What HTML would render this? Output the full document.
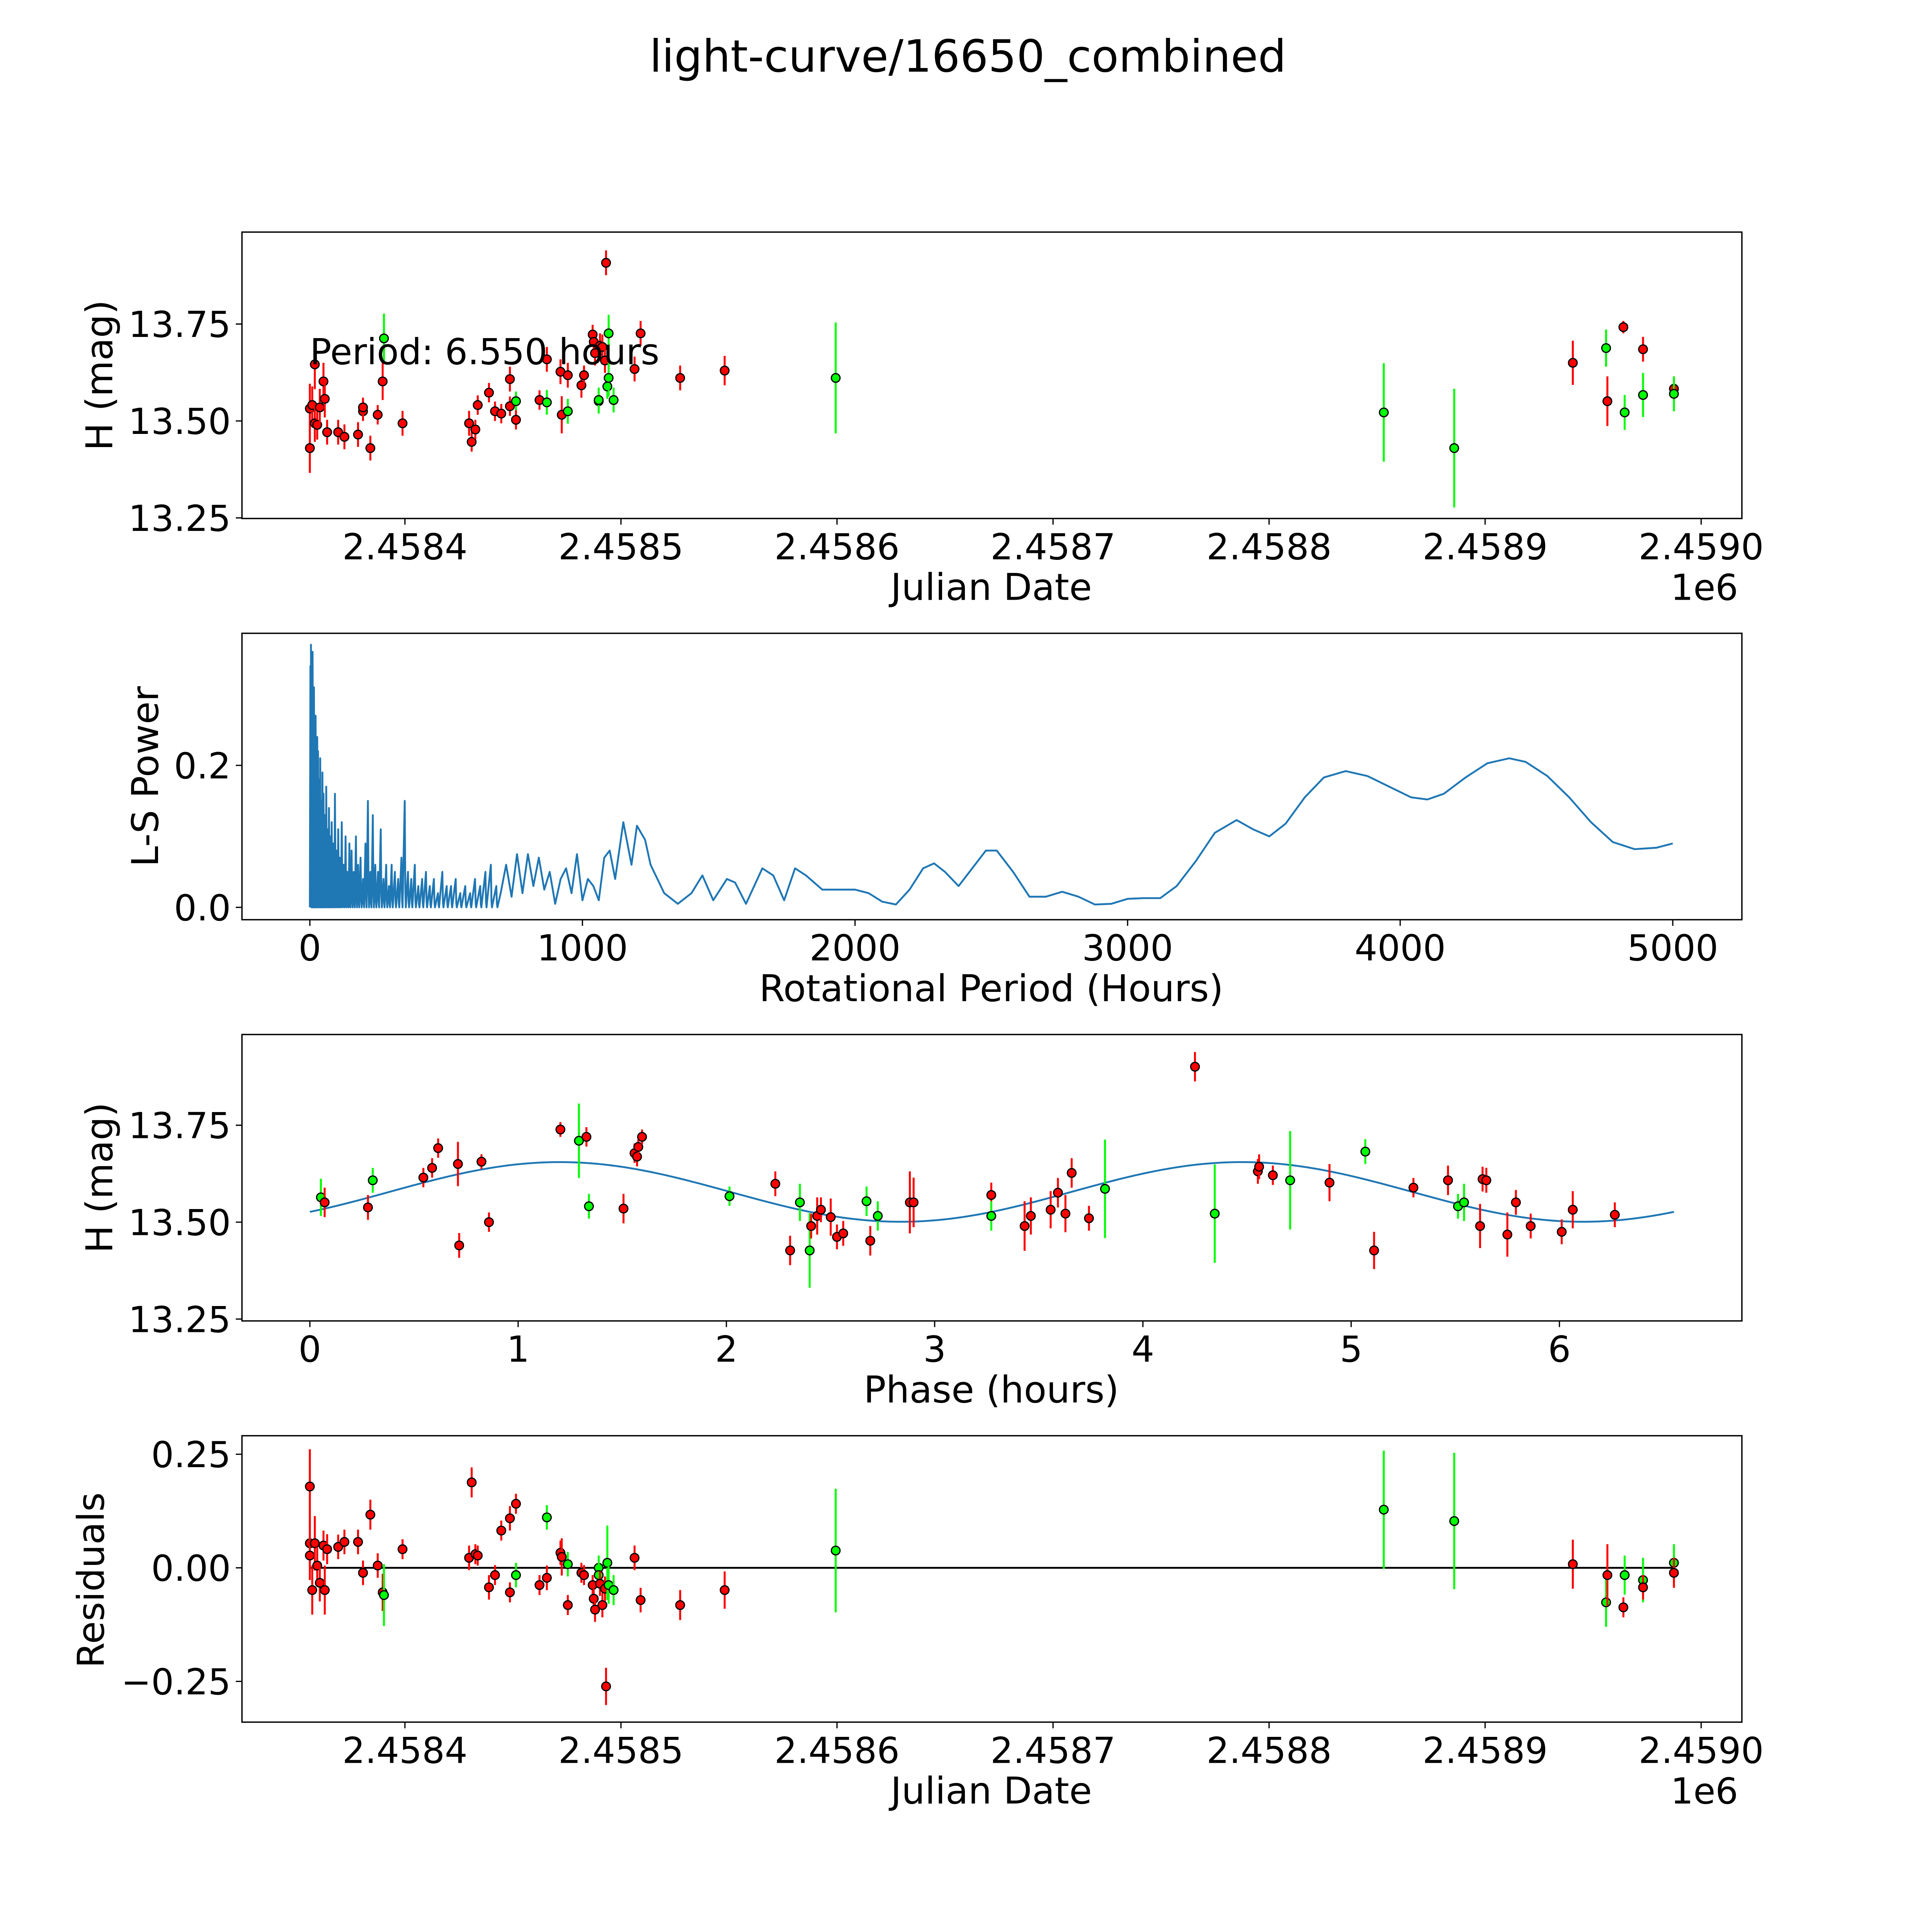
<!DOCTYPE html>
<html><head><meta charset="utf-8">
<style>
html,body{margin:0;padding:0;background:#fff;overflow:hidden;width:100%;height:100%;}
svg{display:block;width:100vw;height:100vh;font-family:"DejaVu Sans","Liberation Sans",sans-serif;}
</style></head>
<body>
<svg id="fig" viewBox="0 0 1565 1565" preserveAspectRatio="none" xmlns="http://www.w3.org/2000/svg">
<rect x="0" y="0" width="1565" height="1565" fill="#fff"/>
<text x="784" y="58" font-size="36" text-anchor="middle">light-curve/16650_combined</text>
<g id="p1"></g>
<g id="p2"></g>
<g id="p3"></g>
<g id="p4"></g>
</svg>
<script>
const lcDays = [-44,-44,-42.9,-41.7,-41.7,-40.6,-39.4,-37.7,-37.1,-36,-30.9,-28,-21.7,-19.4,-19.4,-16,-12.6,-10.3,-9.7,-1.1,29.7,30.9,32.6,33.7,38.9,41.7,44.6,48.6,48.6,51.4,51.4,62.3,65.7,65.7,72,72.6,75.4,75.4,81.7,82.9,86.9,87.4,88,89.7,89.7,90.3,91.4,92.6,93.1,93.7,94.3,94.3,96.6,106.3,109.1,127.4,148,199.4,453.1,485.7,540.6,556,556.6,564,564.6,573.1,573.1,587.4,587.4];
const lcMag = [13.43,13.532,13.541,13.646,13.494,13.49,13.535,13.602,13.557,13.471,13.471,13.459,13.465,13.525,13.535,13.43,13.516,13.602,13.713,13.494,13.494,13.446,13.478,13.541,13.573,13.525,13.519,13.608,13.538,13.551,13.503,13.554,13.548,13.659,13.627,13.516,13.525,13.618,13.592,13.618,13.723,13.704,13.675,13.551,13.554,13.694,13.691,13.656,13.908,13.589,13.611,13.726,13.554,13.634,13.726,13.611,13.63,13.611,13.522,13.43,13.65,13.688,13.551,13.742,13.522,13.685,13.567,13.583,13.57];
const lcErr = [0.064,0.064,0.048,0.064,0.048,0.038,0.048,0.048,0.048,0.032,0.032,0.032,0.032,0.025,0.025,0.032,0.025,0.048,0.064,0.032,0.032,0.025,0.025,0.025,0.025,0.025,0.025,0.032,0.025,0.025,0.025,0.025,0.032,0.032,0.032,0.048,0.032,0.032,0.032,0.025,0.025,0.025,0.032,0.032,0.032,0.032,0.032,0.032,0.032,0.032,0.048,0.048,0.032,0.032,0.032,0.032,0.038,0.143,0.127,0.153,0.057,0.048,0.064,0.016,0.045,0.032,0.057,0.032,0.045];
const lcCol = ["r","r","r","r","r","r","r","r","r","r","r","r","r","r","r","r","r","r","g","r","r","r","r","r","r","r","r","r","r","g","r","r","g","r","r","r","g","r","r","r","r","r","r","g","g","r","r","r","r","g","g","g","g","r","r","r","r","g","g","g","r","g","r","r","g","r","g","r","g"];

const spikePeriods = [2,4,6,8,10,12,15,18,21,24,27,30,34,38,42,46,50,55,60,65,70,75,80,86,92,98,104,110,117,124,131,138,145,153,161,169,177,186,195,204,213,222,231,240,250,260,270,280,290,300,312,324,336,348,360,372,385,398,412,426,440,455,470,486,502,518,535,552,570,588,606,625,644,664,684];
const spikePowers = [0.34,0.37,0.33,0.3,0.36,0.28,0.31,0.25,0.27,0.2,0.24,0.22,0.18,0.21,0.15,0.19,0.16,0.13,0.17,0.11,0.14,0.1,0.12,0.09,0.16,0.08,0.11,0.07,0.12,0.06,0.1,0.05,0.09,0.08,0.05,0.1,0.06,0.07,0.04,0.09,0.15,0.05,0.13,0.06,0.05,0.11,0.04,0.06,0.03,0.06,0.05,0.04,0.07,0.15,0.05,0.04,0.06,0.03,0.04,0.05,0.03,0.04,0.02,0.05,0.03,0.03,0.04,0.02,0.03,0.02,0.04,0.03,0.05,0.06,0.03];
const smoothPeriods = [700,720,740,760,780,800,820,840,860,880,900,920,940,960,980,1000,1020,1040,1060,1080,1100,1120,1150,1180,1200,1230,1250,1300,1350,1400,1440,1480,1530,1560,1600,1660,1700,1740,1780,1820,1880,1950,2000,2050,2100,2150,2200,2250,2290,2330,2380,2420,2480,2520,2580,2640,2700,2760,2820,2880,2940,3000,3060,3120,3180,3250,3320,3400,3460,3520,3580,3650,3720,3800,3880,3960,4040,4100,4160,4240,4320,4400,4460,4540,4620,4700,4780,4860,4940,5000];
const smoothPowers = [0.02,0.06,0.015,0.075,0.02,0.075,0.03,0.07,0.025,0.05,0.005,0.04,0.055,0.02,0.075,0.01,0.04,0.03,0.01,0.07,0.08,0.04,0.12,0.06,0.115,0.095,0.06,0.02,0.005,0.02,0.045,0.01,0.04,0.035,0.005,0.055,0.045,0.01,0.055,0.045,0.025,0.025,0.025,0.02,0.008,0.004,0.025,0.055,0.062,0.05,0.03,0.05,0.08,0.08,0.05,0.015,0.015,0.022,0.015,0.004,0.005,0.012,0.013,0.013,0.03,0.065,0.105,0.123,0.11,0.1,0.118,0.155,0.183,0.192,0.185,0.17,0.155,0.152,0.16,0.183,0.203,0.21,0.205,0.185,0.155,0.12,0.092,0.082,0.084,0.09];

const phHours = [0.053,0.071,0.279,0.302,0.545,0.587,0.616,0.711,0.717,0.824,0.86,1.203,1.292,1.328,1.34,1.506,1.559,1.571,1.577,1.595,2.015,2.235,2.306,2.353,2.4,2.407,2.436,2.454,2.501,2.531,2.561,2.673,2.691,2.727,2.881,2.899,3.272,3.272,3.432,3.462,3.557,3.592,3.628,3.658,3.741,3.818,4.25,4.345,4.552,4.558,4.624,4.707,4.896,5.068,5.11,5.299,5.465,5.513,5.542,5.619,5.631,5.649,5.75,5.791,5.862,6.011,6.064,6.266];
const phMag = [13.564,13.551,13.538,13.608,13.615,13.64,13.691,13.65,13.44,13.656,13.5,13.739,13.71,13.72,13.541,13.535,13.678,13.669,13.694,13.72,13.567,13.599,13.427,13.551,13.427,13.49,13.516,13.532,13.513,13.462,13.471,13.554,13.452,13.516,13.551,13.551,13.57,13.516,13.49,13.516,13.532,13.576,13.522,13.627,13.51,13.586,13.901,13.522,13.631,13.643,13.621,13.608,13.602,13.682,13.427,13.589,13.608,13.541,13.551,13.49,13.611,13.608,13.468,13.551,13.49,13.475,13.532,13.519];
const phErr = [0.048,0.038,0.032,0.032,0.025,0.025,0.025,0.057,0.032,0.019,0.025,0.019,0.096,0.025,0.032,0.038,0.025,0.025,0.019,0.019,0.025,0.032,0.038,0.048,0.096,0.032,0.048,0.032,0.048,0.032,0.032,0.038,0.038,0.038,0.08,0.064,0.032,0.038,0.064,0.048,0.048,0.038,0.048,0.038,0.032,0.127,0.038,0.127,0.032,0.032,0.025,0.127,0.048,0.032,0.048,0.025,0.038,0.032,0.048,0.057,0.032,0.032,0.057,0.032,0.032,0.032,0.048,0.032];
const phCol = ["g","r","r","g","r","r","r","r","r","r","r","r","g","r","g","r","r","r","r","r","g","r","r","g","g","r","r","r","r","r","r","g","r","g","r","r","r","g","r","r","r","r","r","r","r","g","r","g","r","r","r","g","r","g","r","r","r","g","g","r","r","r","r","r","r","r","r","r"];
const fitMean = 13.578, fitAmp = 0.077, fitPeak = 1.2, fitPeriod = 3.275, phaseMax = 6.55;

const resDays = [-44,-44,-44,-42.9,-41.7,-40.6,-39.4,-37.7,-37.1,-36,-30.9,-28,-21.7,-19.4,-16,-12.6,-10.3,-9.7,-1.1,29.7,30.9,32.6,33.7,38.9,41.7,44.6,48.6,48.6,51.4,51.4,62.3,65.7,65.7,72,72.6,75.4,75.4,81.7,82.9,86.9,87.4,88,89.7,89.7,90.3,91.4,92.6,93.1,93.7,94.3,96.6,106.3,109.1,127.4,148,199.4,453.1,485.7,540.6,556,556.6,564,564.6,573.1,573.1,587.4,587.4];
const resVal = [0.179,0.054,0.027,-0.049,0.054,0.005,-0.033,0.049,-0.049,0.041,0.046,0.057,0.057,-0.011,0.117,0.005,-0.054,-0.06,0.041,0.022,0.188,0.03,0.027,-0.043,-0.016,0.082,0.109,-0.054,0.141,-0.016,-0.038,0.111,-0.022,0.033,0.024,0.008,-0.082,-0.011,-0.016,-0.038,-0.068,-0.092,0,-0.016,-0.035,-0.082,-0.046,-0.261,0.011,-0.038,-0.049,0.022,-0.071,-0.082,-0.049,0.038,0.128,0.103,0.008,-0.076,-0.016,-0.087,-0.016,-0.027,-0.043,0.011,-0.011];
const resErr = [0.082,0.049,0.054,0.054,0.06,0.041,0.041,0.033,0.054,0.033,0.027,0.027,0.027,0.027,0.033,0.027,0.041,0.068,0.022,0.027,0.033,0.022,0.022,0.027,0.022,0.022,0.027,0.022,0.022,0.027,0.022,0.027,0.027,0.027,0.041,0.027,0.022,0.022,0.022,0.022,0.022,0.027,0.027,0.027,0.027,0.027,0.027,0.041,0.082,0.041,0.033,0.027,0.027,0.033,0.041,0.136,0.13,0.15,0.054,0.054,0.068,0.022,0.043,0.049,0.027,0.041,0.033];
const resCol = ["r","r","r","r","r","r","r","r","r","r","r","r","r","r","r","r","r","g","r","r","r","r","r","r","r","r","r","r","r","g","r","g","r","r","r","g","r","r","r","r","r","r","g","g","r","r","r","r","g","g","g","r","r","r","r","g","g","g","r","g","r","r","g","g","r","g","r"];

const jdTicks = [2458400,2458500,2458600,2458700,2458800,2458900,2459000];
const jdTickLabels = ["2.4584","2.4585","2.4586","2.4587","2.4588","2.4589","2.4590"];
const magTicks = [13.25,13.5,13.75];
const magTickLabels = ["13.25","13.50","13.75"];
const pTicks = [0,1000,2000,3000,4000,5000];
const powTicks = [0,0.2];
const powTickLabels = ["0.0","0.2"];
const phTicks = [0,1,2,3,4,5,6];
const resTicks = [-0.25,0,0.25];
const resTickLabels = ["\u22120.25","0.00","0.25"];

const NS = "http://www.w3.org/2000/svg";
const TF = 29, LF = 30;
function mk(parent, tag, attrs){const e=document.createElementNS(NS,tag);for(const k in attrs)e.setAttribute(k,attrs[k]);parent.appendChild(e);return e;}
const jdX = d => 328 + (d-2458400)*1.75;
const dayX = d => 328 + d*1.75;
function frame(g,L,T,R,B){
  const f=mk(g,'rect',{x:L,y:T,width:R-L,height:B-T,fill:'none',stroke:'#000','stroke-width':1.1});
  
  
}
function xtick(g,x,B,label){
  mk(g,'line',{x1:x,y1:B,x2:x,y2:B+5,stroke:'#000','stroke-width':1});
  const t=mk(g,'text',{x:x,y:B+33,'font-size':TF,'text-anchor':'middle'});t.textContent=label;
  
  
}
function ytick(g,y,L,label){
  mk(g,'line',{x1:L-5,y1:y,x2:L,y2:y,stroke:'#000','stroke-width':1});
  const t=mk(g,'text',{x:L-9,y:y+10.5,'font-size':TF,'text-anchor':'end'});t.textContent=label;
  
  
}
function label(g,x,y,txt,rot,name){
  const t=mk(g,'text',{x:x,y:y,'font-size':LF,'text-anchor':'middle'});
  if(rot)t.setAttribute('transform',`rotate(-90 ${x} ${y})`);
  t.textContent=txt;
  
  
}
function point(g,x,y,ytop,ybot,c){
  const col=c==='g'?'#00ff00':'#ff0000';
  const l=mk(g,'line',{x1:x,y1:ytop,x2:x,y2:ybot,stroke:col,'stroke-width':1.6});
  
  
  const p=mk(g,'circle',{cx:x,cy:y,r:3.5,fill:col,stroke:'#000','stroke-width':1});
  
  
}
function offsetLabel(g,y){
  const t=mk(g,'text',{x:1408,y:y,'font-size':TF,'text-anchor':'end'});t.textContent='1e6';
  
  
}

(function(){
  const g=document.getElementById('p1');
  const L=196,T=188,R=1411,B=420;
  const yM=m=>341-(m-13.5)*314;
  lcDays.forEach((d,i)=>point(g,dayX(d),yM(lcMag[i]),yM(lcMag[i]+lcErr[i]),yM(lcMag[i]-lcErr[i]),lcCol[i]));
  frame(g,L,T,R,B);
  jdTicks.forEach((v,i)=>xtick(g,jdX(v),B,jdTickLabels[i]));
  magTicks.forEach((v,i)=>ytick(g,yM(v),L,magTickLabels[i]));
  offsetLabel(g,486);
  label(g,803,486,'Julian Date',false,'x-axis-title');
  label(g,91,304,'H (mag)',true,'y-axis-title');
  const pt=mk(g,'text',{x:251,y:295,'font-size':29});pt.textContent='Period: 6.550 hours';
  
  
})();

(function(){
  const g=document.getElementById('p2');
  const L=196,T=513,R=1411,B=745;
  const xP=p=>251+p*0.2208, yP=v=>735-v*575;
  let d='M'+xP(0)+' '+yP(0);
  spikePeriods.forEach((p,i)=>{
    d+=` L${xP(p).toFixed(2)} ${yP(spikePowers[i]).toFixed(2)} L${(xP(p)+0.5).toFixed(2)} ${yP(spikePowers[i]*0.15).toFixed(2)} L${(xP(p)+0.9).toFixed(2)} ${yP(0)}`;
  });
  smoothPeriods.forEach((p,i)=>{d+=` L${xP(p).toFixed(2)} ${yP(smoothPowers[i]).toFixed(2)}`;});
  const path=mk(g,'path',{d:d,fill:'none',stroke:'#1f77b4','stroke-width':1.5,'stroke-linejoin':'round'});
  
  
  frame(g,L,T,R,B);
  pTicks.forEach(v=>xtick(g,xP(v),B,String(v)));
  powTicks.forEach((v,i)=>ytick(g,yP(v),L,powTickLabels[i]));
  label(g,803,811,'Rotational Period (Hours)',false,'x-axis-title');
  label(g,128,629,'L-S Power',true,'y-axis-title');
})();

(function(){
  const g=document.getElementById('p3');
  const L=196,T=838,R=1411,B=1070;
  const xH=h=>251+h*168.7, yM=m=>990-(m-13.5)*314;
  let d='';
  for(let i=0;i<=200;i++){const h=phaseMax*i/200;const m=fitMean+fitAmp*Math.cos(2*Math.PI*(h-fitPeak)/fitPeriod);d+=(i?' L':'M')+xH(h).toFixed(2)+' '+yM(m).toFixed(2);}
  const c=mk(g,'path',{d:d,fill:'none',stroke:'#1f77b4','stroke-width':1.5});
  
  
  phHours.forEach((h,i)=>point(g,xH(h),yM(phMag[i]),yM(phMag[i]+phErr[i]),yM(phMag[i]-phErr[i]),phCol[i]));
  frame(g,L,T,R,B);
  phTicks.forEach(v=>xtick(g,xH(v),B,String(v)));
  magTicks.forEach((v,i)=>ytick(g,yM(v),L,magTickLabels[i]));
  label(g,803,1136,'Phase (hours)',false,'x-axis-title');
  label(g,91,954,'H (mag)',true,'y-axis-title');
})();

(function(){
  const g=document.getElementById('p4');
  const L=196,T=1163,R=1411,B=1395;
  const yR=v=>1270-v*368;
  const z=mk(g,'line',{x1:dayX(-44),y1:yR(0),x2:dayX(587.4),y2:yR(0),stroke:'#000','stroke-width':1.5});
  
  
  resDays.forEach((d,i)=>point(g,dayX(d),yR(resVal[i]),yR(resVal[i]+resErr[i]),yR(resVal[i]-resErr[i]),resCol[i]));
  frame(g,L,T,R,B);
  jdTicks.forEach((v,i)=>xtick(g,jdX(v),B,jdTickLabels[i]));
  resTicks.forEach((v,i)=>ytick(g,yR(v),L,resTickLabels[i]));
  offsetLabel(g,1461);
  label(g,803,1461,'Julian Date',false,'x-axis-title');
  label(g,84,1280,'Residuals',true,'y-axis-title');
})();
</script>
</body></html>
